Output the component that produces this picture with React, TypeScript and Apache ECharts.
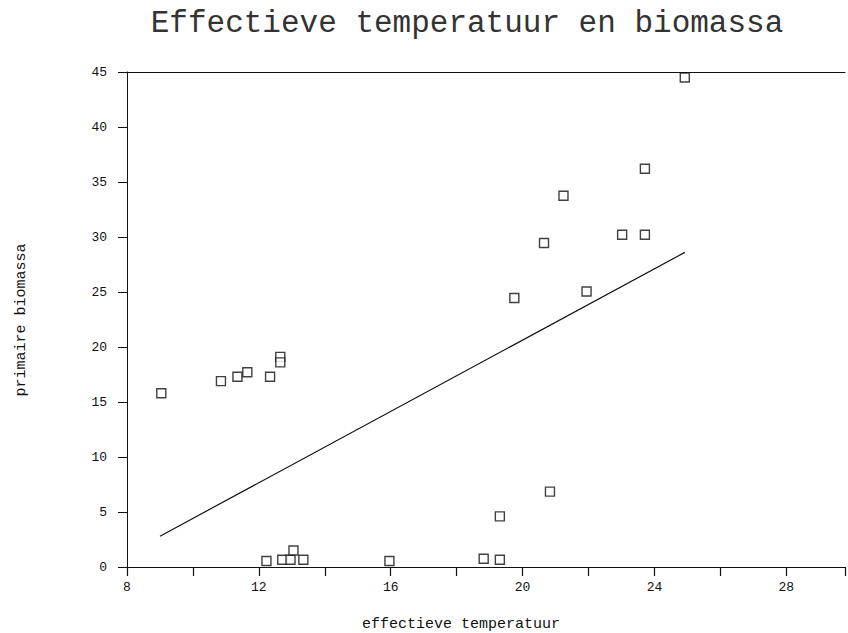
import React, { useEffect, useRef } from "react";
import * as echarts from "echarts";

const titleText = "Effectieve temperatuur en biomassa";
const xAxisName = "effectieve temperatuur";
const yAxisName = "primaire biomassa";

// effectieve temperatuur (x) and primaire biomassa (y)
const temperature = [
  9.04, 10.85, 11.35, 11.65, 12.34, 12.65, 12.65,
  12.23, 12.71, 12.96, 13.05, 13.35, 15.96,
  18.82, 19.31, 19.31, 20.83,
  24.92, 23.71, 21.24, 20.65, 23.02, 23.71, 19.75, 21.94,
];
const biomass = [
  15.8, 16.9, 17.3, 17.7, 17.3, 19.1, 18.6,
  0.55, 0.66, 0.66, 1.5, 0.66, 0.55,
  0.75, 0.66, 4.6, 6.85,
  44.5, 36.2, 33.75, 29.45, 30.2, 30.2, 24.45, 25.05,
];

// fitted line end points
const fitX = [9.0, 24.92];
const fitY = [2.8, 28.6];

const xTickLabels = [8, 12, 16, 20, 24, 28];
const yTickLabels = [0, 5, 10, 15, 20, 25, 30, 35, 40, 45];

const MONO = "'Liberation Mono', 'DejaVu Sans Mono', monospace";

export default function App() {
  const ref = useRef<HTMLDivElement>(null);

  useEffect(() => {
    if (!ref.current) return;
    const chart = echarts.init(ref.current, undefined, { renderer: "svg" });
    const points = temperature.map((t, i) => [t, biomass[i]]);
    const fit = fitX.map((x, i) => [x, fitY[i]]);
    chart.setOption({
      animation: false,
      backgroundColor: "#ffffff",
      title: {
        text: titleText,
        left: 462,
        top: 3,
        textAlign: "center",
        textStyle: {
          fontFamily: MONO,
          fontSize: 31,
          fontWeight: "normal",
          color: "#333",
        },
      },
      grid: { left: 127, right: 0, top: 72, bottom: 66, containLabel: false },
      xAxis: [
        {
          type: "value",
          min: 8,
          max: 29.78,
          interval: 2,
          position: "bottom",
          axisLine: { show: true, onZero: false, lineStyle: { color: "#111", width: 1 } },
          axisTick: { show: true, length: 9, lineStyle: { color: "#111", width: 1.2 } },
          axisLabel: {
            margin: 14,
            fontFamily: MONO,
            fontSize: 13,
            color: "#111",
            formatter: (v: number) => (xTickLabels.includes(v) ? String(v) : ""),
          },
          splitLine: { show: false },
        },
        {
          type: "value",
          min: 8,
          max: 29.78,
          position: "top",
          axisLine: { show: true, onZero: false, lineStyle: { color: "#111", width: 1 } },
          axisTick: { show: false },
          axisLabel: { show: false },
          splitLine: { show: false },
        },
      ],
      yAxis: {
        type: "value",
        min: 0,
        max: 45,
        interval: 5,
        axisLine: { show: true, onZero: false, lineStyle: { color: "#111", width: 1 } },
        axisTick: { show: true, length: 9, lineStyle: { color: "#111", width: 1 } },
        axisLabel: {
          margin: 20,
          fontFamily: MONO,
          fontSize: 13,
          color: "#111",
          formatter: (v: number) => (yTickLabels.includes(v) ? String(v) : ""),
        },
        splitLine: { show: false },
      },
      graphic: [
        {
          type: "text",
          x: 461,
          y: 624,
          style: {
            text: xAxisName,
            fontFamily: MONO,
            fontSize: 15,
            fill: "#111",
            textAlign: "center",
            textVerticalAlign: "middle",
          },
        },
        {
          type: "text",
          x: 21,
          y: 320,
          rotation: Math.PI / 2,
          style: {
            text: yAxisName,
            fontFamily: MONO,
            fontSize: 15,
            fill: "#111",
            textAlign: "center",
            textVerticalAlign: "middle",
          },
        },
      ],
      series: [
        {
          type: "scatter",
          xAxisIndex: 0,
          data: points,
          symbol: "rect",
          symbolSize: 9,
          itemStyle: { color: "#ffffff", borderColor: "#111", borderWidth: 1.4 },
          z: 3,
        },
        {
          type: "line",
          xAxisIndex: 0,
          data: fit,
          symbol: "none",
          lineStyle: { color: "#111", width: 1.2 },
          z: 2,
        },
      ],
    });
    return () => chart.dispose();
  }, []);

  return (
    <div
      ref={ref}
      style={{ position: "fixed", left: 0, top: 0, width: 848, height: 633, background: "#fff" }}
    />
  );
}
